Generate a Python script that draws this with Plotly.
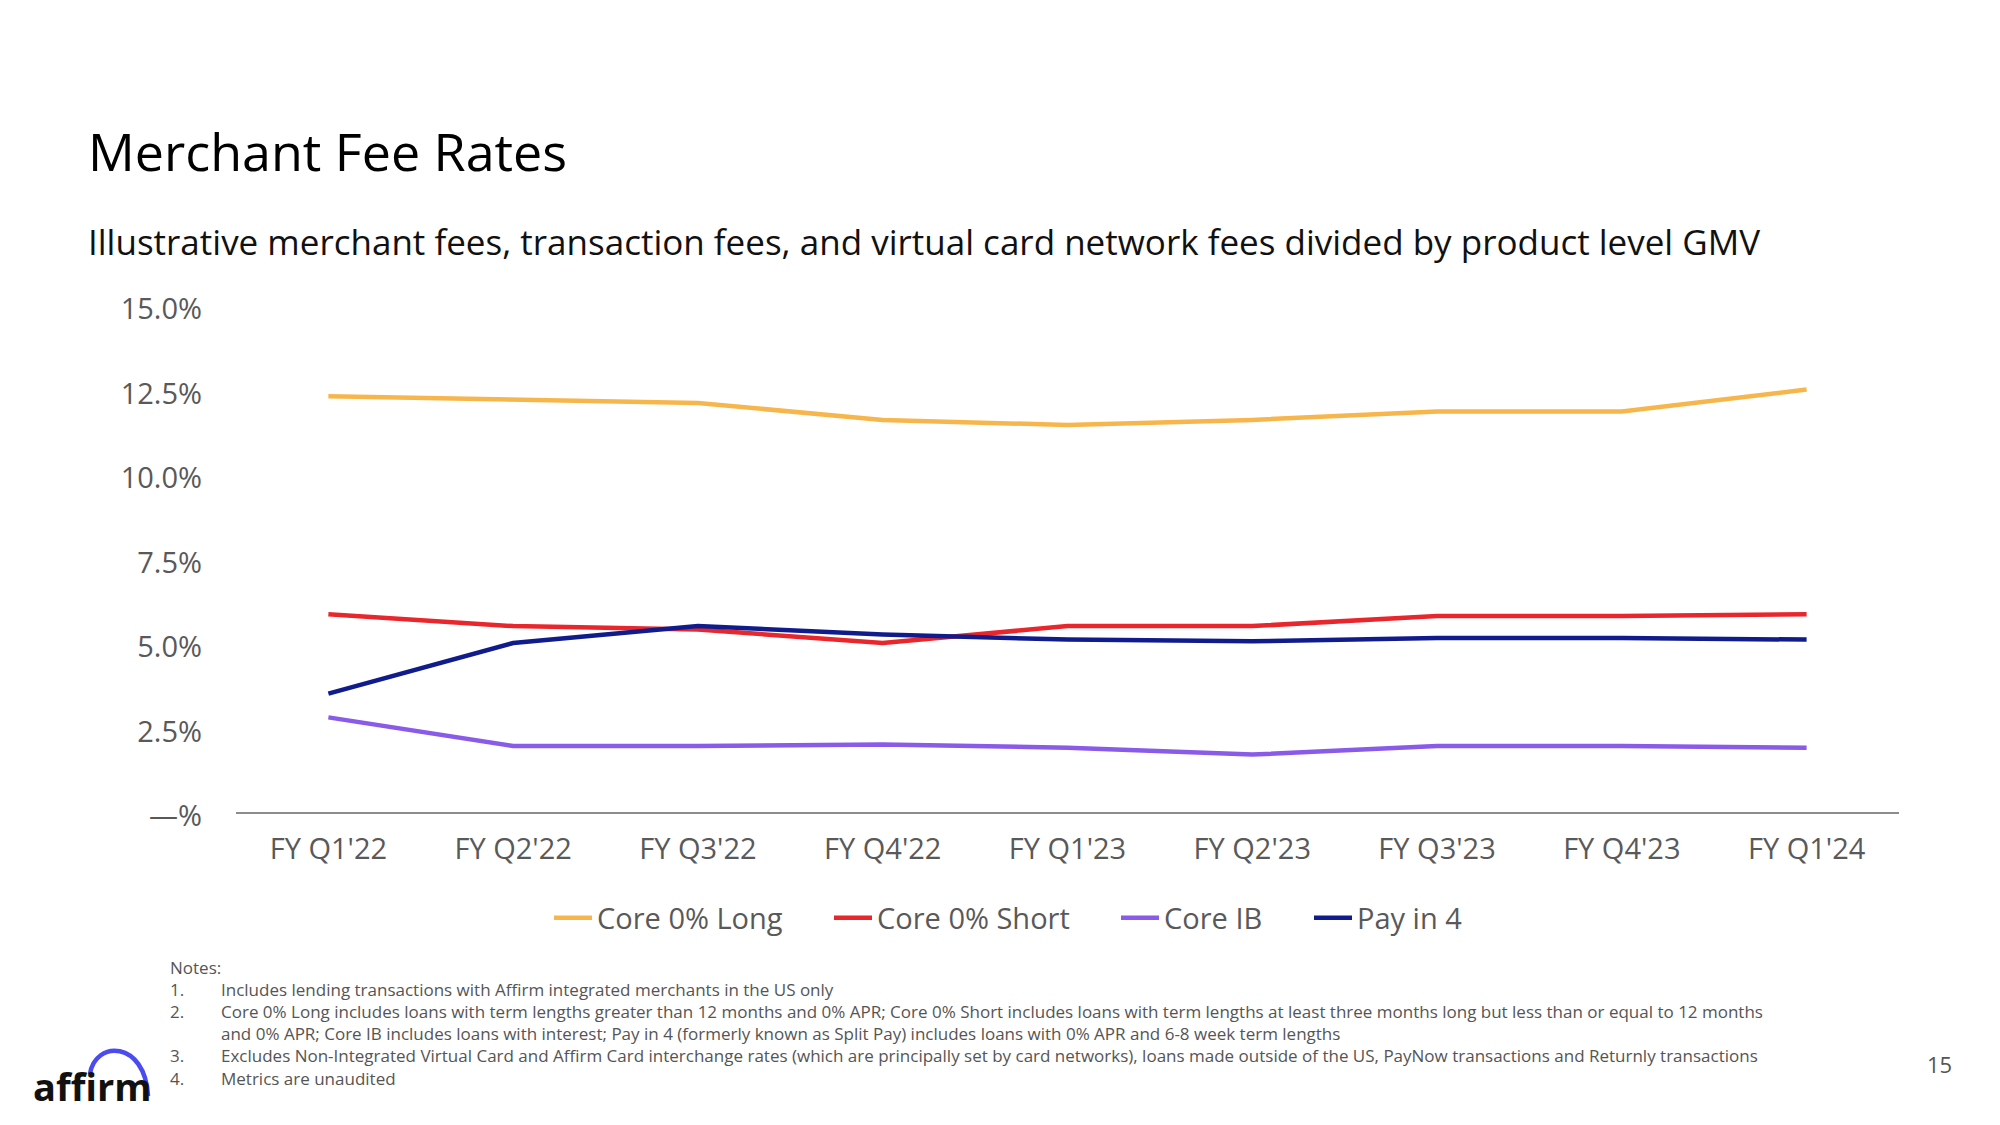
import plotly.graph_objects as go

quarters = ["FY Q1'22", "FY Q2'22", "FY Q3'22", "FY Q4'22", "FY Q1'23",
            "FY Q2'23", "FY Q3'23", "FY Q4'23", "FY Q1'24"]
core_long = [12.3, 12.2, 12.1, 11.6, 11.45, 11.6, 11.85, 11.85, 12.5]
core_short = [5.85, 5.5, 5.4, 5.0, 5.5, 5.5, 5.8, 5.8, 5.85]
core_ib = [2.8, 1.95, 1.95, 2.0, 1.9, 1.7, 1.95, 1.95, 1.9]
pay_in_4 = [3.5, 5.0, 5.5, 5.25, 5.1, 5.05, 5.15, 5.15, 5.1]

y_tickvals = [0, 2.5, 5, 7.5, 10, 12.5, 15]
y_ticktext = ["\u2014%", "2.5%", "5.0%", "7.5%", "10.0%", "12.5%", "15.0%"]

series_names = ["Core 0% Long", "Core 0% Short", "Core IB", "Pay in 4"]
series_colors = ["#F7B64B", "#E8262B", "#8A5AE8", "#101C8C"]

notes = [
    "Includes lending transactions with Affirm integrated merchants in the US only",
    "Core 0% Long includes loans with term lengths greater than 12 months and 0% APR; Core 0% Short includes loans with term lengths at least three months long but less than or equal to 12 months",
    "and 0% APR; Core IB includes loans with interest; Pay in 4 (formerly known as Split Pay) includes loans with 0% APR and 6-8 week term lengths",
    "Excludes Non-Integrated Virtual Card and Affirm Card interchange rates (which are principally set by card networks), loans made outside of the US, PayNow transactions and Returnly transactions",
    "Metrics are unaudited",
]
note_numbers = ["1.", "2.", "\u00a0", "3.", "4."]

OFF = 8  # default page body margin
W, H = 2000 - 2 * OFF, 1125 - 2 * OFF
# plot area in page pixel coordinates
L, R, T, B = 236, 1899, 305, 812
FONT = "Open Sans"


def px(x):
    return (x - L) / (R - L)


def py(y):
    return (B - y) / (B - T)


legend_keys = ["legend", "legend2", "legend3", "legend4"]
legend_page_x = [549, 829, 1116, 1309]

fig = go.Figure()
for name, vals, col, lk in zip(series_names, [core_long, core_short, core_ib, pay_in_4],
                               series_colors, legend_keys):
    fig.add_trace(go.Scatter(x=quarters, y=vals, name=name, mode="lines",
                             line=dict(color=col, width=4.5), legend=lk))

NOTE_FONT = dict(family=FONT, size=17, color="#555555")
annotations = [
    dict(text="Merchant Fee Rates", x=px(86), y=py(150), xanchor="left", yanchor="middle",
         font=dict(family=FONT, size=52, color="#000000")),
    dict(text="Illustrative merchant fees, transaction fees, and virtual card network fees divided by product level GMV",
         x=px(86), y=py(241), xanchor="left", yanchor="middle",
         font=dict(family=FONT, size=35, color="#111111")),
    dict(text="15", x=px(1939), y=py(1064), xanchor="center", yanchor="middle",
         font=dict(family=FONT, size=22, color="#555555")),
    dict(text="<b>affirm</b>", x=px(31), y=py(1086), xanchor="left", yanchor="middle",
         font=dict(family=FONT, size=38, color="#111111")),
    dict(text="<br>".join(["Notes:"] + note_numbers), x=px(168), y=py(1023),
         xanchor="left", yanchor="middle", align="left", font=NOTE_FONT),
    dict(text="<br>".join(["\u00a0"] + notes), x=px(219), y=py(1023),
         xanchor="left", yanchor="middle", align="left", font=NOTE_FONT),
]
for a in annotations:
    a.update(xref="paper", yref="paper", showarrow=False)

arc_path = "M {:.4f},{:.4f} C {:.4f},{:.4f} {:.4f},{:.4f} {:.4f},{:.4f}".format(
    px(90), py(1074), px(95), py(1040), px(145), py(1040), px(148), py(1096))

legend_layout = {}
for lk, lx in zip(legend_keys, legend_page_x):
    legend_layout[lk] = dict(orientation="h", x=px(lx), y=py(918), xanchor="left", yanchor="middle",
                             font=dict(family=FONT, size=29, color="#595959"), itemwidth=38,
                             bgcolor="rgba(0,0,0,0)", borderwidth=0)

fig.update_layout(
    width=W, height=H, autosize=False,
    margin=dict(l=L - OFF, r=W - (R - OFF), t=T - OFF, b=H - (B - OFF), pad=0),
    paper_bgcolor="white", plot_bgcolor="white",
    font=dict(family=FONT, color="#595959"),
    showlegend=True,
    xaxis=dict(type="category", range=[-0.5, 8.5], showgrid=False, zeroline=False,
               showline=True, linecolor="#8C8C8C", linewidth=2,
               tickfont=dict(family=FONT, size=29, color="#595959"),
               ticks="", ticklabelstandoff=10, fixedrange=True),
    yaxis=dict(range=[0, 15], tickvals=y_tickvals, ticktext=y_ticktext,
               showgrid=False, zeroline=False, showline=False,
               tickfont=dict(family=FONT, size=29, color="#595959"),
               ticks="", ticklabelstandoff=33, ticklabelshift=4, fixedrange=True),
    annotations=annotations,
    shapes=[dict(type="path", path=arc_path, xref="paper", yref="paper",
                 line=dict(color="#4B4BF0", width=4.5))],
    **legend_layout,
)

fig.write_html("out.html")
